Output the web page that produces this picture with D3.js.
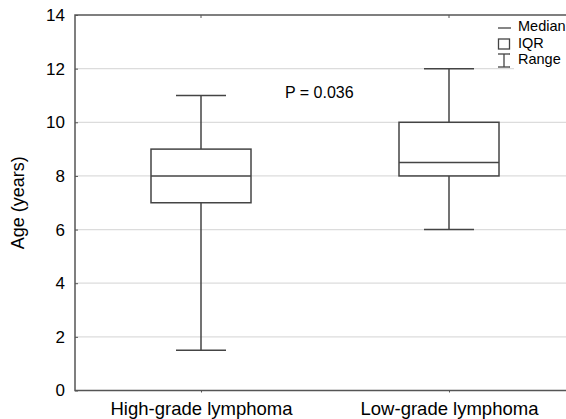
<!DOCTYPE html>
<html>
<head>
<meta charset="utf-8">
<script src="https://cdn.jsdelivr.net/npm/d3@7"></script>
<style>
  body { margin: 0; background: #fff; }
  text { font-family: "Liberation Sans", Arial, sans-serif; fill: #000; }
</style>
</head>
<body>
<script>
  // data
  var groups = ["High-grade lymphoma", "Low-grade lymphoma"];
  var mins    = [1.5, 6];
  var q1s     = [7, 8];
  var medians = [8, 8.5];
  var q3s     = [9, 10];
  var maxs    = [11, 12];
  var yTicks  = [0, 2, 4, 6, 8, 10, 12, 14];
  var legendItems = ["Median", "IQR", "Range"];

  var width = 566, height = 419;
  var plotLeft = 75, plotTop = 15, plotBottom = 390.5, plotRight = 573;

  var stats = groups.map((g, i) => ({
    name: g, min: mins[i], q1: q1s[i], med: medians[i], q3: q3s[i], max: maxs[i]
  }));

  var x = d3.scalePoint().domain(groups).range([plotLeft + 2, plotRight]).padding(0.5);
  var y = d3.scaleLinear().domain([0, 14]).range([plotBottom, plotTop]);

  var svg = d3.select("body").append("svg")
    .attr("width", width)
    .attr("height", height);

  // grid
  svg.append("g")
    .selectAll("line")
    .data(yTicks.filter(d => d > 0 && d < 14))
    .enter().append("line")
    .attr("x1", plotLeft).attr("x2", width)
    .attr("y1", d => y(d)).attr("y2", d => y(d))
    .attr("stroke", "#dcdcdc").attr("stroke-width", 1.2);

  // y axis
  var yAxis = svg.append("g")
    .attr("transform", `translate(${plotLeft},0)`)
    .call(d3.axisLeft(y).tickValues(yTicks).tickSize(-3).tickPadding(10));
  yAxis.select(".domain").remove();
  yAxis.selectAll("line").attr("stroke", "#555");
  yAxis.selectAll("text").style("font-size", "17px");

  // x axis ticks
  var xAxis = svg.append("g")
    .attr("transform", `translate(0,${plotBottom})`)
    .call(d3.axisBottom(x).tickSize(2).tickPadding(9));
  xAxis.select(".domain").remove();
  xAxis.selectAll("line").attr("stroke", "#555");
  xAxis.selectAll("text").style("font-size", "18.5px");

  // top ticks
  svg.append("g")
    .selectAll("line")
    .data(groups)
    .enter().append("line")
    .attr("x1", d => x(d)).attr("x2", d => x(d))
    .attr("y1", plotTop).attr("y2", plotTop + 3)
    .attr("stroke", "#555");

  // frame
  svg.append("path")
    .attr("d", `M${width},${plotTop}H${plotLeft}V${plotBottom}H${width}`)
    .attr("fill", "none")
    .attr("stroke", "#555")
    .attr("stroke-width", 1.5);

  // boxes
  var boxW = 100, capW = 50;
  var g = svg.append("g")
    .attr("stroke", "#444")
    .attr("stroke-width", 1.5)
    .attr("fill", "none");

  var box = g.selectAll("g")
    .data(stats)
    .enter().append("g");

  box.append("line")
    .attr("x1", d => x(d.name)).attr("x2", d => x(d.name))
    .attr("y1", d => y(d.max)).attr("y2", d => y(d.q3));
  box.append("line")
    .attr("x1", d => x(d.name)).attr("x2", d => x(d.name))
    .attr("y1", d => y(d.q1)).attr("y2", d => y(d.min));
  box.append("line")
    .attr("x1", d => x(d.name) - capW / 2).attr("x2", d => x(d.name) + capW / 2)
    .attr("y1", d => y(d.max)).attr("y2", d => y(d.max));
  box.append("line")
    .attr("x1", d => x(d.name) - capW / 2).attr("x2", d => x(d.name) + capW / 2)
    .attr("y1", d => y(d.min)).attr("y2", d => y(d.min));
  box.append("rect")
    .attr("x", d => x(d.name) - boxW / 2)
    .attr("width", boxW)
    .attr("y", d => y(d.q3))
    .attr("height", d => y(d.q1) - y(d.q3))
    .attr("fill", "#fff");
  box.append("line")
    .attr("x1", d => x(d.name) - boxW / 2).attr("x2", d => x(d.name) + boxW / 2)
    .attr("y1", d => y(d.med)).attr("y2", d => y(d.med));

  // y title
  svg.append("text")
    .attr("transform", `translate(24,${(plotTop + plotBottom) / 2}) rotate(-90)`)
    .attr("text-anchor", "middle")
    .style("font-size", "18px")
    .text("Age (years)");

  // p value
  svg.append("text")
    .attr("x", 285).attr("y", 98)
    .style("font-size", "16px")
    .text("P = 0.036");

  // legend
  var leg = svg.append("g");
  leg.append("rect")
    .attr("x", 514).attr("y", 18).attr("width", 52).attr("height", 52)
    .attr("fill", "#fff");
  leg.selectAll("text")
    .data(legendItems)
    .enter().append("text")
    .attr("x", 518)
    .attr("y", (d, i) => 31 + i * 16.7)
    .style("font-size", "14.5px")
    .text(d => d);
  var ls = leg.append("g").attr("stroke", "#444").attr("stroke-width", 1.3).attr("fill", "none");
  ls.append("line").attr("x1", 498).attr("x2", 511).attr("y1", 28).attr("y2", 28);
  ls.append("rect").attr("x", 498.5).attr("y", 39).attr("width", 11).attr("height", 10);
  ls.append("line").attr("x1", 498).attr("x2", 510).attr("y1", 54).attr("y2", 54);
  ls.append("line").attr("x1", 504).attr("x2", 504).attr("y1", 54).attr("y2", 67);
  ls.append("line").attr("x1", 498).attr("x2", 510).attr("y1", 67).attr("y2", 67);
</script>
</body>
</html>
